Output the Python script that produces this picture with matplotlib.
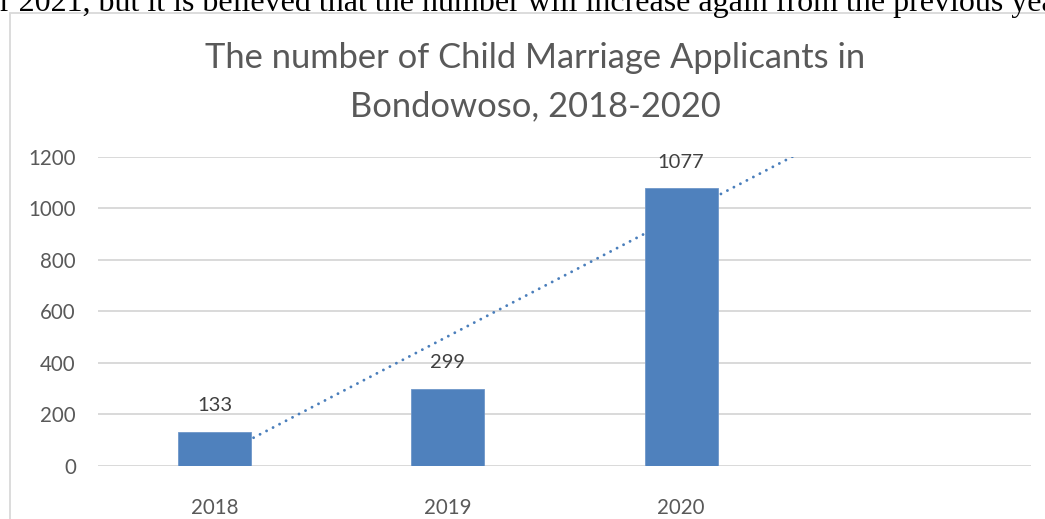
import numpy as np
import matplotlib.pyplot as plt
from matplotlib.patches import Rectangle

# Data
years = ["2018", "2019", "2020", ""]
applicants = [133, 299, 1077]
y_ticks = [0, 200, 400, 600, 800, 1000, 1200]

title = "The number of Child Marriage Applicants in\nBondowoso, 2018-2020"
page_text = "r 2021, but it is believed that the number will increase again from the previous year."

BAR_COLOR = "#4f81bd"
TREND_COLOR = "#4a7ebb"
GRID_COLOR = "#d9d9d9"
TEXT_COLOR = "#595959"
LABEL_COLOR = "#404040"
FONT = ["Lato", "DejaVu Sans"]

fig = plt.figure(figsize=(10.45, 5.19), dpi=100)
fig.patch.set_facecolor("white")

# cut-off line of document text above the chart
fig.text(0.0, (519 - 10.5) / 519, page_text, family=["Liberation Serif", "DejaVu Serif"],
         fontsize=23, color="black", ha="left", va="baseline")

# chart frame (runs off the right and bottom of the screenshot)
frame = Rectangle((10 / 1045, -0.1), 1.2, 0.1 + (519 - 12.5) / 519,
                  transform=fig.transFigure, facecolor="none",
                  edgecolor=GRID_COLOR, linewidth=1.3, clip_on=False)
fig.patches.append(frame)

ax = fig.add_axes([98 / 1045, 53 / 519, 933 / 1045, 309.3 / 519])
ax.patch.set_alpha(0)

x = np.arange(len(applicants))
ax.bar(x, applicants, width=0.313, color=BAR_COLOR, edgecolor="#6f97c9",
       linewidth=0.6, zorder=3)

# linear trendline, forecast forward past the last category
coef = np.polyfit(x + 1, applicants, 1)
xt = np.linspace(0, 3.6, 200)
ax.plot(xt, np.polyval(coef, xt + 1), color=TREND_COLOR, linewidth=2.1,
        linestyle=(0, (0.01, 2.5)), dash_capstyle="round", zorder=2)

for xi, v in zip(x, applicants):
    ax.annotate(str(v), (xi, v), xytext=(0, 19), textcoords="offset points",
                ha="center", va="center", fontsize=14.5, color=LABEL_COLOR,
                family=FONT)

ax.set_xlim(-0.5, 3.5)
ax.set_ylim(0, 1200)
ax.set_xticks(np.arange(len(years)))
ax.set_xticklabels(years)
ax.set_yticks(y_ticks)
ax.yaxis.grid(True, color=GRID_COLOR, linewidth=1.4, zorder=0)
ax.set_axisbelow(True)
for s in ax.spines.values():
    s.set_visible(False)
ax.tick_params(axis="both", length=0, labelsize=14.8, labelcolor=TEXT_COLOR)
ax.tick_params(axis="x", pad=23)
ax.tick_params(axis="y", pad=16)
for lbl in ax.get_xticklabels() + ax.get_yticklabels():
    lbl.set_family(FONT)

fig.text(535 / 1045, (519 - 82) / 519, title, ha="center", va="center",
         fontsize=24.8, color=TEXT_COLOR, family=FONT, linespacing=1.6)

fig.savefig("out.png", dpi=100)
